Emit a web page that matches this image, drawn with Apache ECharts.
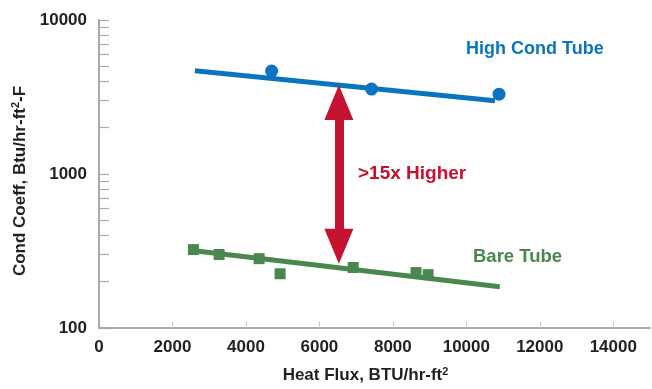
<!DOCTYPE html>
<html>
<head>
<meta charset="utf-8">
<script src="https://cdn.jsdelivr.net/npm/echarts@6/dist/echarts.min.js"></script>
<style>html,body{margin:0;padding:0;background:#fff}#c{width:652px;height:389px}</style>
</head>
<body>
<div id="c"></div>
<script>
// ---- data ----
var xTickLabels = [0, 2000, 4000, 6000, 8000, 10000, 12000, 14000];
var yTickLabels = [100, 1000, 10000];
var yMinorTicks = [100,200,300,400,500,600,700,800,900,1000,2000,3000,4000,5000,6000,7000,8000,9000,10000];
var highCondPoints = [[4700, 4660], [7420, 3560], [10890, 3300]];
var highCondFit = [[2610, 4680], [10780, 2990]];
var bareTubePoints = [[2570, 323], [3270, 300], [4360, 282], [4930, 225], [6920, 247], [8630, 229], [8960, 222]];
var bareTubeFit = [[2480, 320], [10910, 185]];
var arrowX = 6530;
var arrowEnds = [2908, 340];
var seriesNames = ['High Cond Tube', 'Bare Tube'];
var ratioText = '>15x Higher';

var FONT = "'Liberation Sans', Arial, sans-serif";
var BLUE = '#0a74c0', GREEN = '#4a874e', RED = '#c41230', DARK = '#231f20', AXIS = '#a7a9ac';
function plain(v) { return String(v); }

var chart = echarts.init(document.getElementById('c'), null, {renderer: 'canvas'});
chart.setOption({
  animation: false,
  grid: {left: 99, right: 2, top: 20, bottom: 61, outerBoundsMode: 'none'},
  xAxis: {
    type: 'value', min: 0, max: 15000, interval: 2000,
    name: '{a|Heat Flux, BTU/hr-ft}{s|2}',
    nameLocation: 'middle', nameGap: 38,
    nameTextStyle: {
      padding: [0, 18, 0, 0],
      rich: {
        a: {fontFamily: FONT, fontWeight: 'bold', fontSize: 17, color: DARK},
        s: {fontFamily: FONT, fontWeight: 'bold', fontSize: 11, color: DARK, verticalAlign: 'top', padding: [0, 0, 8, 0]}
      }
    },
    axisLine: {show: true, lineStyle: {color: AXIS, width: 2}},
    axisTick: {show: true, inside: true, length: 7, lineStyle: {color: '#c8c9cb', width: 1}, customValues: xTickLabels.slice(1)},
    axisLabel: {fontFamily: FONT, fontWeight: 'bold', fontSize: 17, color: DARK, margin: 11, customValues: xTickLabels, formatter: plain},
    splitLine: {show: false}
  },
  yAxis: {
    type: 'log', min: 100, max: 10000, logBase: 10,
    name: '{a|Cond Coeff, Btu/hr-ft}{s|2}{a|-F}',
    nameLocation: 'middle', nameGap: 50,
    nameTextStyle: {
      padding: [0, 14, 0, 0],
      rich: {
        a: {fontFamily: FONT, fontWeight: 'bold', fontSize: 17, color: DARK},
        s: {fontFamily: FONT, fontWeight: 'bold', fontSize: 11, color: DARK, verticalAlign: 'top', padding: [0, 0, 8, 0]}
      }
    },
    axisLine: {show: true, lineStyle: {color: AXIS, width: 2}},
    axisTick: {show: true, inside: true, length: 10, lineStyle: {color: AXIS, width: 1.2}, customValues: yMinorTicks},
    axisLabel: {fontFamily: FONT, fontWeight: 'bold', fontSize: 17, color: DARK, margin: 12, customValues: yTickLabels, formatter: plain},
    splitLine: {show: false},
    minorTick: {show: false}
  },
  series: [
    {type: 'line', name: seriesNames[0] + ' fit', data: highCondFit, symbol: 'none', lineStyle: {color: BLUE, width: 5}, z: 2},
    {type: 'scatter', name: seriesNames[0], data: highCondPoints, symbol: 'circle', symbolSize: 13, itemStyle: {color: BLUE, opacity: 1}, z: 3},
    {type: 'line', name: seriesNames[1] + ' fit', data: bareTubeFit, symbol: 'none', lineStyle: {color: GREEN, width: 5}, z: 2,
      markLine: {
        silent: true, symbol: ['triangle', 'triangle'], symbolSize: [29, 35],
        label: {show: false},
        lineStyle: {color: RED, width: 9, type: 'solid', opacity: 1},
        itemStyle: {color: RED},
        emphasis: {disabled: true},
        data: [[{coord: [arrowX, arrowEnds[0]]}, {coord: [arrowX, arrowEnds[1]]}]]
      }
    },
    {type: 'scatter', name: seriesNames[1], data: bareTubePoints, symbol: 'rect', symbolSize: 11, itemStyle: {color: GREEN, opacity: 1}, z: 3}
  ],
  graphic: [
    {type: 'text', left: 466, top: 40, style: {text: seriesNames[0], fill: BLUE, font: 'bold 18px ' + FONT}},
    {type: 'text', left: 473, top: 247, style: {text: seriesNames[1], fill: GREEN, font: 'bold 18.5px ' + FONT}},
    {type: 'text', left: 358, top: 164, style: {text: ratioText, fill: RED, font: 'bold 19px ' + FONT}}
  ]
});
</script>
</body>
</html>
